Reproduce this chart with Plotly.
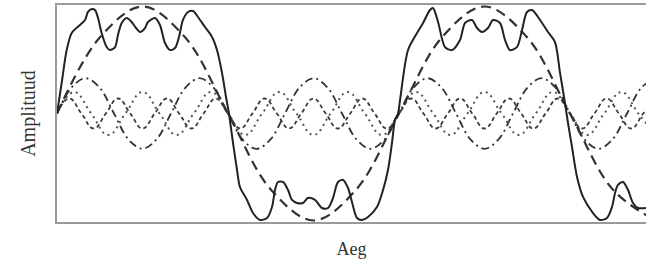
import plotly.graph_objects as go

# ---- data (x in degrees of the fundamental, y in units of fundamental amplitude) ----
fund_x = [0, 45, 90, 135, 180, 225, 270, 315, 360, 405, 450, 495, 540, 585, 630]
fund_y = [0, 0.71, 1.0, 0.71, 0, -0.71, -1.0, -0.71, 0, 0.71, 1.0, 0.71, 0, -0.71, -1.0]

h3_x = [0, 15, 30, 45, 60, 75, 90, 105, 120, 135, 150, 165, 180, 195, 210, 225, 240, 255,
        270, 285, 300, 315, 330, 345, 360, 375, 390, 405, 420, 435, 450, 465, 480, 495,
        510, 525, 540, 555, 570, 585, 600, 615, 630]
h3_y = [0, 0.24, 0.33, 0.24, 0, -0.24, -0.33, -0.24,
        0, 0.24, 0.33, 0.24, 0, -0.24, -0.33, -0.24,
        0, 0.24, 0.33, 0.24, 0, -0.24, -0.33, -0.24,
        0, 0.24, 0.33, 0.24, 0, -0.24, -0.33, -0.24,
        0, 0.24, 0.33, 0.24, 0, -0.24, -0.33, -0.24,
        0, 0.24, 0.33]

h5_x = [0, 18, 36, 54, 72, 90, 108, 126, 144, 162, 180, 198, 216, 234, 252, 270, 288, 306,
        324, 342, 360, 378, 396, 414, 432, 450, 468, 486, 504, 522, 540, 558, 576, 594,
        612, 630]
h5_y = [0, 0.2, 0, -0.2, 0, 0.2, 0, -0.2, 0, 0.2, 0, -0.2, 0, 0.2, 0, -0.2, 0, 0.2,
        0, -0.2, 0, 0.2, 0, -0.2, 0, 0.2, 0, -0.2, 0, 0.2, 0, -0.2, 0, 0.2, 0, -0.2]

h7_x = [0, 12.86, 25.71, 38.57, 51.43, 64.29, 77.14, 90, 102.86, 115.71, 128.57, 141.43,
        154.29, 167.14, 180, 192.86, 205.71, 218.57, 231.43, 244.29, 257.14, 270, 282.86,
        295.71, 308.57, 321.43, 334.29, 347.14, 360, 372.86, 385.71, 398.57, 411.43,
        424.29, 437.14, 450, 462.86, 475.71, 488.57, 501.43, 514.29, 527.14, 540, 552.86,
        565.71, 578.57, 591.43, 604.29, 617.14, 630]
h7_y = [0, 0.14, 0, -0.14, 0, 0.14, 0, -0.14, 0, 0.14, 0, -0.14, 0, 0.14, 0, -0.14,
        0, 0.14, 0, -0.14, 0, 0.14, 0, -0.14, 0, 0.14, 0, -0.14, 0, 0.14, 0, -0.14,
        0, 0.14, 0, -0.14, 0, 0.14, 0, -0.14, 0, 0.14, 0, -0.14, 0, 0.14, 0, -0.14,
        0, 0.14]

sum_x = [0, 4.9, 10.2, 15.5, 24.2, 29.5, 32.6, 36.8, 40.0, 43.2, 47.0, 52.3, 55.8, 61.1,
         64.2, 68.1, 73.4, 78.6, 83.2, 87.4, 92.6, 95.8, 103.2, 108.4, 113.7, 119.0, 124.2,
         128.4, 132.6, 137.9, 143.2, 148.4, 155.8, 163.2, 168.4, 173.7, 177.9, 181.0,
         185.3, 189.5, 192.6, 200.0, 206.3, 213.7, 221.1, 226.3, 229.5, 232.6, 237.9,
         243.2, 247.4, 252.6, 258.9, 264.2, 271.6, 278.9, 285.3, 290.5, 295.8, 301.1,
         306.3, 310.5, 315.8, 321.1, 327.4, 336.8, 343.2, 348.4, 352.6, 355.8, 359.0,
         361.1, 369.5, 379.0, 385.3, 392.6, 395.8, 401.1, 408.4, 415.8, 424.2, 429.5,
         436.8, 442.1, 447.4, 453.7, 458.9, 466.3, 471.6, 476.8, 484.2, 489.5, 494.7,
         500.0, 506.3, 516.8, 524.2, 529.5, 534.7, 537.9,
         542.1, 547.4, 553.7, 564.2, 571.6, 578.9, 584.2, 587.4, 590.5, 595.8, 601.1,
         606.3, 611.6, 620.0]
sum_y = [0, 0.285, 0.593, 0.752, 0.827, 0.874, 0.949, 0.977, 0.967, 0.893, 0.752, 0.621,
         0.593, 0.621, 0.734, 0.846, 0.893, 0.855, 0.799, 0.762, 0.799, 0.855, 0.893,
         0.827, 0.659, 0.593, 0.612, 0.715, 0.874, 0.949, 0.958, 0.902, 0.808, 0.715,
         0.593, 0.379, 0.154, 0,
         -0.276, -0.528, -0.687, -0.808, -0.930, -0.995, -0.977, -0.874, -0.715, -0.640,
         -0.640, -0.715, -0.808, -0.836, -0.836, -0.790, -0.808, -0.883, -0.883, -0.790,
         -0.640, -0.621, -0.696, -0.827, -0.977, -0.995, -0.967, -0.874, -0.715, -0.528,
         -0.276, -0.061, 0,
         0.126, 0.593, 0.752, 0.846, 0.967, 0.986, 0.855, 0.621, 0.593, 0.687, 0.846,
         0.874, 0.799, 0.762, 0.799, 0.874, 0.846, 0.687, 0.593, 0.621, 0.780, 0.949,
         0.967, 0.902, 0.762, 0.668, 0.379, 0.098, -0.089,
         -0.313, -0.593, -0.780, -0.930, -0.995, -0.977, -0.874, -0.743, -0.668, -0.640,
         -0.715, -0.836, -0.883, -0.883]

x_title = "Aeg"
y_title = "Amplituud"

fig = go.Figure()
fig.add_trace(go.Scatter(x=h7_x, y=h7_y, mode="lines",
                         line=dict(color="#3a3a3a", width=1.8, dash="4px,3px", shape="spline", smoothing=1.3)))
fig.add_trace(go.Scatter(x=h5_x, y=h5_y, mode="lines",
                         line=dict(color="#555", width=2, dash="2px,4px", shape="spline", smoothing=1.3)))
fig.add_trace(go.Scatter(x=h3_x, y=h3_y, mode="lines",
                         line=dict(color="#333", width=1.8, dash="8px,4px,2px,4px", shape="spline", smoothing=1)))
fig.add_trace(go.Scatter(x=fund_x, y=fund_y, mode="lines",
                         line=dict(color="#333", width=2.2, dash="10px,6px", shape="spline", smoothing=1)))
fig.add_trace(go.Scatter(x=sum_x, y=sum_y, mode="lines",
                         line=dict(color="#222", width=2, shape="spline", smoothing=0.8)))

fig.update_layout(
    width=646, height=261,
    margin=dict(l=57, r=0, t=5, b=39),
    paper_bgcolor="white", plot_bgcolor="white",
    showlegend=False,
    font=dict(family="Liberation Serif", color="#333"),
    xaxis=dict(range=[0, 620], showgrid=False, zeroline=False, showticklabels=False,
               ticks="", showline=True, mirror=True, linecolor="#9a9a9a", linewidth=2,
               title=dict(text=x_title, font=dict(size=18, family="Liberation Serif"), standoff=19)),
    yaxis=dict(range=[-1.014, 1.014], showgrid=False, zeroline=False, showticklabels=False,
               ticks="", showline=True, linecolor="#9a9a9a", linewidth=2,
               title=dict(text=y_title, font=dict(size=20, family="Liberation Serif"), standoff=14)),
)

fig.write_html("out.html", config={"displayModeBar": False},
               post_script="document.body.style.margin='0';document.body.style.overflow='hidden';")
